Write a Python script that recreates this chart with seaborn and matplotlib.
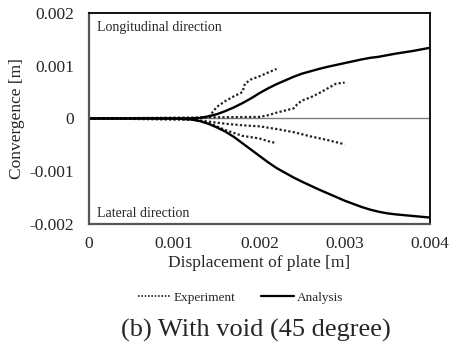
import numpy as np
import pandas as pd
import seaborn as sns
import matplotlib.pyplot as plt

# analysis curves (solid)
ana_x = [0, 0.0010, 0.0012, 0.0013, 0.0014, 0.0015, 0.0016, 0.0017, 0.0018, 0.0019, 0.0020, 0.0021,
         0.0022, 0.0023, 0.0024, 0.0025, 0.0027, 0.0028, 0.0030, 0.0032, 0.0033, 0.0034, 0.0035, 0.0036,
         0.0038, 0.0040]
ana_long = [0, 0, 0.000003, 0.00001, 0.00004, 0.00008, 0.00014, 0.00021, 0.00029, 0.00038, 0.00048,
            0.00057, 0.00065, 0.00072, 0.00079, 0.00085, 0.00094, 0.00098, 0.00105, 0.00112, 0.00115,
            0.00117, 0.00120, 0.00123, 0.00128, 0.00134]
ana_lat = [0, 0, -0.00002, -0.00005, -0.00010, -0.00017, -0.00025, -0.00035, -0.00047, -0.00059,
           -0.00071, -0.00083, -0.00094, -0.00103, -0.00112, -0.00120, -0.00135, -0.00142, -0.00156,
           -0.00168, -0.00173, -0.00177, -0.00180, -0.00182, -0.00185, -0.00188]

# experiment curves (dotted)
exp1_x = [0, 0.0012, 0.0014, 0.0015, 0.0016, 0.0017, 0.0018, 0.00183, 0.0019, 0.0020, 0.0021, 0.0022]
exp1_y = [0, 0, 0.00002, 0.00022, 0.00033, 0.00042, 0.00050, 0.00066, 0.00074, 0.00080, 0.00087, 0.00094]
exp2_x = [0, 0.0014, 0.0020, 0.0021, 0.0022, 0.0023, 0.0024, 0.00245, 0.0025, 0.0026, 0.0027, 0.0028,
          0.0029, 0.0030]
exp2_y = [0, 0.00002, 0.00003, 0.00006, 0.00011, 0.00015, 0.00019, 0.00028, 0.00034, 0.00040, 0.00048,
          0.00057, 0.00066, 0.00068]
exp3_x = [0, 0.0012, 0.0014, 0.0016, 0.0018, 0.0020, 0.0022, 0.0024, 0.0026, 0.0028, 0.0030]
exp3_y = [0, -0.00002, -0.00006, -0.00010, -0.00013, -0.00015, -0.00020, -0.00026, -0.00034, -0.00041,
          -0.00049]
exp4_x = [0, 0.0012, 0.0013, 0.0014, 0.0015, 0.0016, 0.0018, 0.0020, 0.0021, 0.0022]
exp4_y = [0, -0.00002, -0.00004, -0.00008, -0.00015, -0.00022, -0.00033, -0.00038, -0.00043, -0.00047]

x_ticks = [0, 0.001, 0.002, 0.003, 0.004]
x_labels = ['0', '0.001', '0.002', '0.003', '0.004']
y_ticks = [-0.002, -0.001, 0, 0.001, 0.002]
y_labels = ['-0.002', '-0.001', '0', '0.001', '0.002']

sns.set_style('white')
plt.rcParams['font.family'] = ['Liberation Serif', 'DejaVu Serif']

fig = plt.figure(figsize=(4.52, 3.52), dpi=100)
ax = fig.add_axes([0.197, 0.364, 0.754, 0.599])

ax.axhline(0, color='#7f7f7f', lw=1.0, zorder=1)

for xs, ys in [(exp1_x, exp1_y), (exp2_x, exp2_y), (exp3_x, exp3_y), (exp4_x, exp4_y)]:
    sns.lineplot(x=xs, y=ys, ax=ax, color='#222222', lw=1.6, linestyle=(0, (1, 1)), sort=False)
sns.lineplot(x=ana_x, y=ana_long, ax=ax, color='black', lw=1.7, sort=False)
sns.lineplot(x=ana_x, y=ana_lat, ax=ax, color='black', lw=1.7, sort=False)

ax.set_xlim(0, 0.004)
ax.set_ylim(-0.002, 0.002)
ax.set_xticks(x_ticks)
ax.set_xticklabels(x_labels, fontsize=12.5)
ax.set_yticks(y_ticks)
ax.set_yticklabels(y_labels, fontsize=12.5)
ax.tick_params(axis='x', length=0, pad=9)
ax.tick_params(axis='y', length=0, pad=11)
ax.set_xlabel('Displacement of plate [m]', fontsize=12.5, labelpad=2)
ax.set_ylabel('Convergence [m]', fontsize=12.5, labelpad=3)

for s in ['top', 'right']:
    ax.spines[s].set_color('black')
    ax.spines[s].set_linewidth(1.3)
for s in ['left', 'bottom']:
    ax.spines[s].set_color('#555555')
    ax.spines[s].set_linewidth(1.6)

ax.text(0.00009, 0.00185, 'Longitudinal direction', fontsize=10, va='top', ha='left')
ax.text(0.00009, -0.00192, 'Lateral direction', fontsize=10, va='bottom', ha='left')

h1, = ax.plot([], [], color='#222222', lw=1.2, linestyle=(0, (1, 1)))
h2, = ax.plot([], [], color='black', lw=1.6)
fig.legend([h1, h2], ['Experiment', 'Analysis'], loc='center', bbox_to_anchor=(0.532, 0.155),
           ncol=2, frameon=False, fontsize=9.5, handlelength=2.5, handletextpad=0.2, columnspacing=2.0)

fig.text(0.566, 0.062, '(b) With void (45 degree)', fontsize=19, ha='center', va='center')

fig.savefig('out.png', dpi=100)
